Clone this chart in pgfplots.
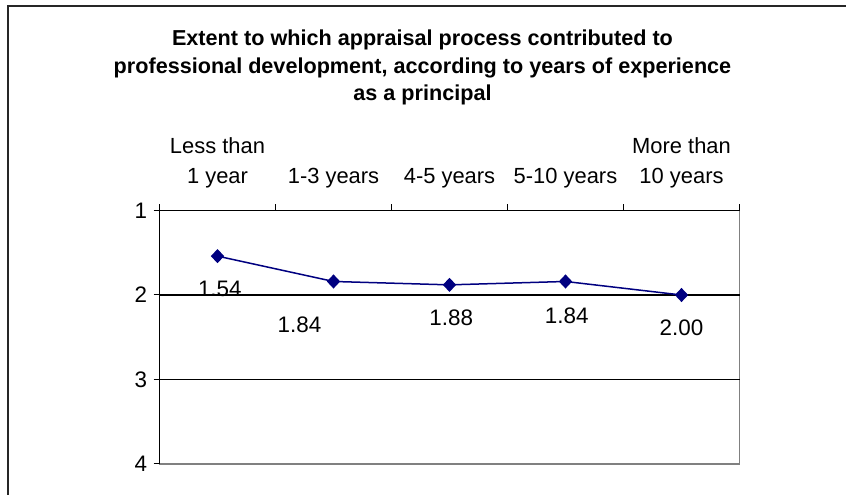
\documentclass[border=0pt]{standalone}
\usepackage{pgfplots}
\pgfplotsset{compat=1.18}
\usepackage{fontspec}
\setmainfont{Liberation Sans}
\definecolor{navy}{RGB}{0,0,128}
\begin{document}
\begin{tikzpicture}[x=1bp,y=1bp]
\path[use as bounding box] (0,0) rectangle (846,495);
\draw[line width=2bp, black!85] (7.5,0) -- (7.5,488.5) -- (846,488.5);
\node[align=center, font=\fontsize{21.7}{27.5}\selectfont\bfseries] at (422.5,427.5) {Extent to which appraisal process contributed to\\professional development, according to years of experience\\as a principal};
\begin{axis}[
  at={(159.5bp,31bp)}, anchor=south west, scale only axis,
  width=580bp, height=253.5bp,
  xmin=-0.5, xmax=4.5, ymin=1, ymax=4, y dir=reverse,
  xtick={0,1,2,3,4},
  xticklabels={{Less than\\1 year\strut},{\strut\\1-3 years\strut},{\strut\\4-5 years\strut},{\strut\\5-10 years\strut},{More than\\10 years\strut}},
  xtick pos=upper, xticklabel pos=upper,
  major x tick style={draw=none},
  minor xtick={-0.5,0.5,1.5,2.5,3.5,4.5},
  ytick={1,2,3,4}, ytick pos=left,
  tick align=outside,
  major tick length=6bp, minor tick length=6bp,
  tick style={black, line width=1bp},
  xticklabel style={font=\fontsize{22}{30}\selectfont, align=center, anchor=south, inner sep=0pt, yshift=12bp},
  yticklabel style={font=\fontsize{22.5}{25}\selectfont, xshift=-3bp},
  /pgf/number format/assume math mode=true,
  axis line style={gray, line width=1.5bp},
  clip=false,
]
\draw[black, line width=1.2bp] (axis cs:-0.5,2) -- (axis cs:4.5,2);
\draw[black, line width=1.2bp] (axis cs:-0.5,3) -- (axis cs:4.5,3);
\draw[black, line width=1.5bp] (axis cs:-0.5,4) -- (axis cs:-0.5,1) -- (axis cs:4.5,1);
\addplot[color=navy, line width=1.5bp, mark=diamond*, mark size=6bp, mark options={xscale=1.25, fill=navy}] coordinates {(0,1.54) (1,1.84) (2,1.88) (3,1.84) (4,2.00)};
\begin{scope}[font=\fontsize{22.5}{25}\selectfont]
\node at (axis cs:0.02,1.93) {1.54};
\node at (axis cs:0.707,2.347) {1.84};
\node at (axis cs:2.015,2.27) {1.88};
\node at (axis cs:3.01,2.245) {1.84};
\node at (axis cs:4.0,2.387) {2.00};
\end{scope}
\end{axis}
\end{tikzpicture}
\end{document}
